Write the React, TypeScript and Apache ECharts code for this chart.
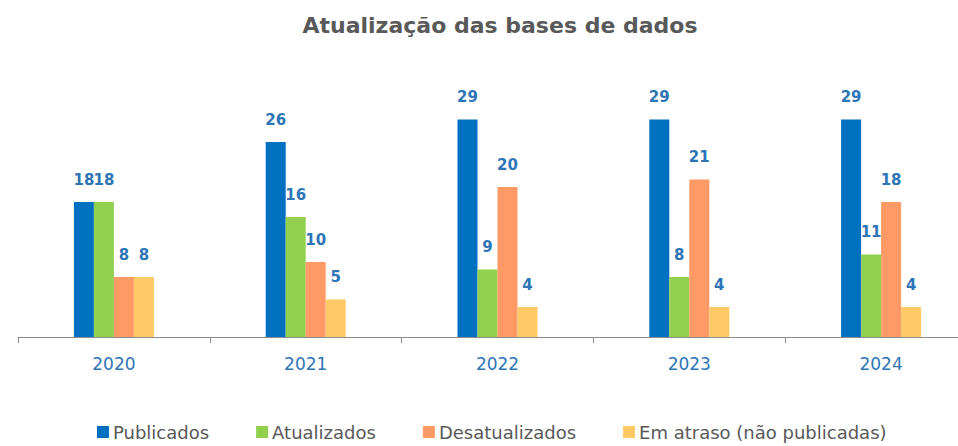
import React, { useEffect, useRef } from "react";
import * as echarts from "echarts";

const categories = ["2020", "2021", "2022", "2023", "2024"];
const publicados = [18, 26, 29, 29, 29];
const atualizados = [18, 16, 9, 8, 11];
const desatualizados = [8, 10, 20, 21, 18];
const emAtraso = [8, 5, 4, 4, 4];
const seriesNames = ["Publicados", "Atualizados", "Desatualizados", "Em atraso (não publicadas)"];
const colors = ["#0070C0", "#92D050", "#FF9966", "#FFC966"];

const FONT = "'DejaVu Sans', sans-serif";

export default function App() {
  const ref = useRef<HTMLDivElement>(null);
  useEffect(() => {
    if (!ref.current) return;
    const chart = echarts.init(ref.current, null, { renderer: "svg" });
    const values = [publicados, atualizados, desatualizados, emAtraso];
    chart.setOption({
      animation: false,
      title: {
        text: "Atualização das bases de dados",
        left: 495,
        textAlign: "center",
        top: 9,
        textStyle: { fontFamily: FONT, fontWeight: "bold", fontSize: 22, color: "#595959" },
      },
      legend: {
        data: seriesNames,
        left: 92,
        top: 418,
        itemWidth: 12,
        itemHeight: 12,
        itemGap: 47,
        icon: "rect",
        textStyle: { fontFamily: FONT, fontSize: 18, color: "#595959", padding: [0, 0, 0, -1] },
      },
      grid: { left: 18, width: 959, top: 74.5, height: 262.5 },
      xAxis: {
        type: "category",
        data: categories,
        axisLine: { lineStyle: { color: "#8C8C8C", width: 1 } },
        axisTick: { show: true, length: 6, lineStyle: { color: "#8C8C8C" } },
        axisLabel: { margin: 18, fontFamily: FONT, fontSize: 17, color: "#2E75B6" },
      },
      yAxis: {
        type: "value",
        min: 0,
        max: 35,
        show: false,
        splitLine: { show: false },
      },
      series: values.map((v, i) => ({
        name: seriesNames[i],
        type: "bar",
        data: v,
        barWidth: 20,
        barGap: "0%",
        itemStyle: { color: colors[i] },
        label: {
          show: true,
          position: "top",
          distance: 15,
          fontFamily: FONT,
          fontWeight: "bold",
          fontSize: 15,
          color: "#2E75B6",
        },
      })),
    });
    return () => chart.dispose();
  }, []);
  return (
    <div style={{ width: 958, height: 446, position: "absolute", left: 0, top: 0, overflow: "hidden" }}>
      <div ref={ref} style={{ width: 980, height: 446 }} />
    </div>
  );
}
